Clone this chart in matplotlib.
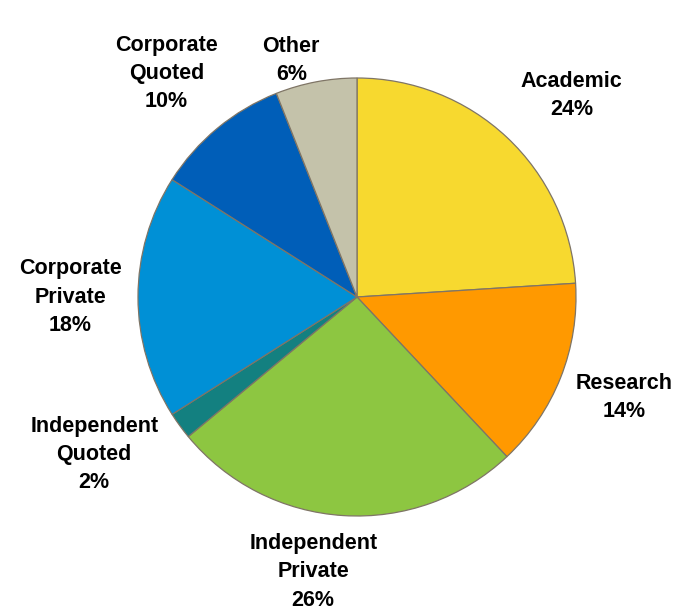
import matplotlib
matplotlib.use('Agg')
import matplotlib.pyplot as plt

# Share of total by category, clockwise from the top
labels = ['Academic', 'Research', 'Independent\nPrivate', 'Independent\nQuoted',
          'Corporate\nPrivate', 'Corporate\nQuoted', 'Other']
shares = [24, 14, 26, 2, 18, 10, 6]
colors = ['#F7D92F', '#FF9900', '#8DC641', '#138080', '#0090D6', '#005EB8', '#C4C2AA']

# label centres in pie-radius units (layout only)
label_pos = [(0.98, 0.92), (1.22, -0.46), (-0.20, -1.255), (-1.20, -0.72),
             (-1.31, 0.0), (-0.87, 1.02), (-0.30, 1.08)]

plt.rcParams['font.family'] = ['Liberation Sans', 'DejaVu Sans']

fig = plt.figure(figsize=(6.82, 6.11), dpi=100)
# centre at (357, 297) px, radius ~219 px
r_px = 219
cx, cy = 357, 297
W, H = 682, 611
ax = fig.add_axes([(cx - r_px) / W, (H - cy - r_px) / H, 2 * r_px / W, 2 * r_px / H])

wedges, _ = ax.pie(shares, colors=colors, startangle=90, counterclock=False,
                   wedgeprops=dict(edgecolor='#7F7566', linewidth=0.9))
ax.set_xlim(-1, 1)
ax.set_ylim(-1, 1)
ax.set_aspect('equal')
ax.axis('off')

for lab, val, (x, y) in zip(labels, shares, label_pos):
    ax.text(x, y, f'{lab}\n{val}%', ha='center', va='center', fontsize=15.5,
            fontweight='bold', linespacing=1.45, clip_on=False)

fig.savefig('out.png', dpi=100)
